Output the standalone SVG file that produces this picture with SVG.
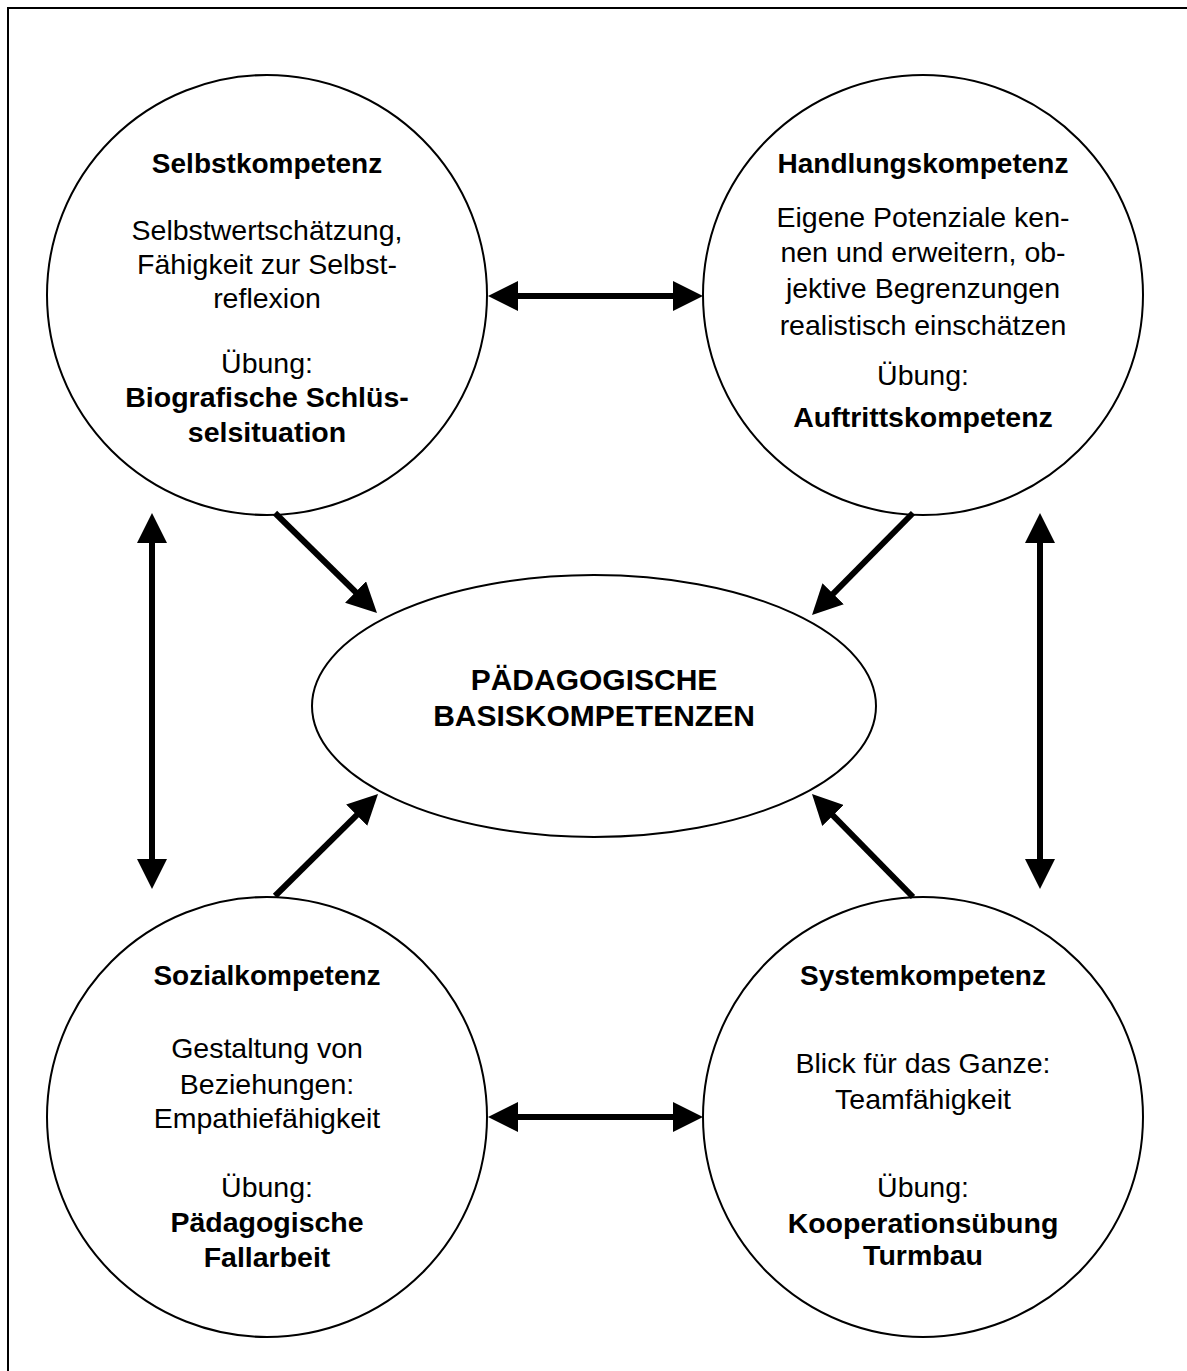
<svg xmlns="http://www.w3.org/2000/svg" width="1187" height="1371" viewBox="0 0 1187 1371">
<defs>
<marker id="ah" viewBox="0 0 30 30" markerWidth="30" markerHeight="30" refX="10" refY="15" orient="auto-start-reverse" markerUnits="userSpaceOnUse">
<path d="M0,0 L30,15 L0,30 Z" fill="#000"/>
</marker>
<style>
.shape{fill:#fff;stroke:#000;stroke-width:2}
.conn line{stroke:#000;stroke-width:6;marker-end:url(#ah)}
.dbl{marker-start:url(#ah)}
text{font-family:"Liberation Sans",Arial,sans-serif;fill:#000;text-anchor:middle}
.h{font-size:28px;font-weight:bold}
.b{font-size:28.5px}
.bb{font-size:28.5px;font-weight:bold}
.c{font-size:30px;font-weight:bold}
</style>
</defs>
<rect width="1187" height="1371" fill="#fff"/>
<rect x="8" y="8" width="1200" height="1400" fill="none" stroke="#000" stroke-width="2"/>

<g id="selbst">
<circle class="shape" cx="267" cy="295" r="220"/>
<text class="h" x="267" y="173">Selbstkompetenz</text>
<text class="b" x="267" y="240">Selbstwertschätzung,</text>
<text class="b" x="267" y="274">Fähigkeit zur Selbst-</text>
<text class="b" x="267" y="308">reflexion</text>
<text class="b" x="267" y="373">Übung:</text>
<text class="bb" x="267" y="407">Biografische Schlüs-</text>
<text class="bb" x="267" y="442">selsituation</text>
</g>

<g id="handlung">
<circle class="shape" cx="923" cy="295" r="220"/>
<text class="h" x="923" y="173">Handlungskompetenz</text>
<text class="b" x="923" y="227">Eigene Potenziale ken-</text>
<text class="b" x="923" y="262">nen und erweitern, ob-</text>
<text class="b" x="923" y="298">jektive Begrenzungen</text>
<text class="b" x="923" y="335">realistisch einschätzen</text>
<text class="b" x="923" y="385">Übung:</text>
<text class="bb" x="923" y="427">Auftrittskompetenz</text>
</g>

<g id="sozial">
<circle class="shape" cx="267" cy="1117" r="220"/>
<text class="h" x="267" y="985">Sozialkompetenz</text>
<text class="b" x="267" y="1058">Gestaltung von</text>
<text class="b" x="267" y="1094">Beziehungen:</text>
<text class="b" x="267" y="1128">Empathiefähigkeit</text>
<text class="b" x="267" y="1197">Übung:</text>
<text class="bb" x="267" y="1232">Pädagogische</text>
<text class="bb" x="267" y="1267">Fallarbeit</text>
</g>

<g id="system">
<circle class="shape" cx="923" cy="1117" r="220"/>
<text class="h" x="923" y="985">Systemkompetenz</text>
<text class="b" x="923" y="1073">Blick für das Ganze:</text>
<text class="b" x="923" y="1109">Teamfähigkeit</text>
<text class="b" x="923" y="1197">Übung:</text>
<text class="bb" x="923" y="1233">Kooperationsübung</text>
<text class="bb" x="923" y="1265">Turmbau</text>
</g>

<g id="basis">
<ellipse class="shape" cx="594" cy="706" rx="282" ry="131"/>
<text class="c" x="594" y="690">PÄDAGOGISCHE</text>
<text class="c" x="594" y="726">BASISKOMPETENZEN</text>
</g>

<g id="connectors" class="conn">
<line class="dbl" x1="508" y1="296" x2="683" y2="296"/>
<line class="dbl" x1="508" y1="1117" x2="683" y2="1117"/>
<line class="dbl" x1="152" y1="533" x2="152" y2="869"/>
<line class="dbl" x1="1040" y1="533" x2="1040" y2="869"/>
<line x1="275" y1="513" x2="362.7" y2="599"/>
<line x1="913" y1="513" x2="826.1" y2="600.8"/>
<line x1="275" y1="896" x2="363.8" y2="808.1"/>
<line x1="913" y1="897" x2="826" y2="808.3"/>
</g>
</svg>
